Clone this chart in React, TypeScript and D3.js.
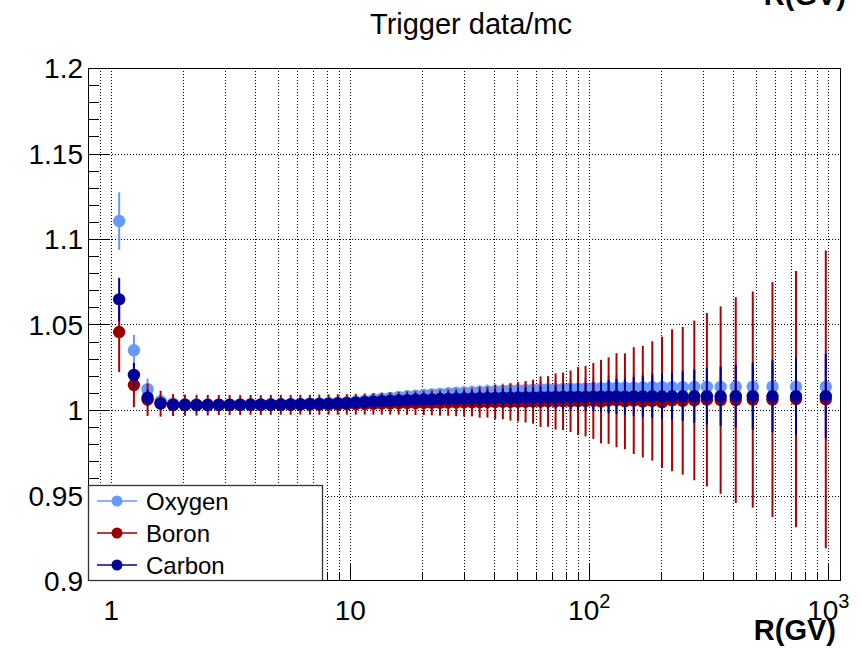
import React from "react";
import * as d3 from "d3";

// ---------- data ----------
const binEdges = [1.00, 1.16, 1.33, 1.51, 1.71, 1.92, 2.15, 2.40, 2.67, 2.97, 3.29, 3.64, 4.02, 4.43, 4.88, 5.37, 5.90, 6.47, 7.09, 7.76, 8.48, 9.26, 10.1, 11.0, 12.0, 13.0, 14.1, 15.3, 16.6, 18.0, 19.5, 21.1, 22.8, 24.7, 26.7, 28.8, 31.1, 33.5, 36.1, 38.9, 41.9, 45.1, 48.5, 52.2, 56.1, 60.3, 64.8, 69.7, 74.9, 80.5, 86.5, 93.0, 100, 108, 116, 125, 135, 147, 160, 175, 192, 211, 233, 259, 291, 330, 379, 441, 525, 643, 822, 1130];

const oxygenValues = [1.1105, 1.0349, 1.0122, 1.0052, 1.0038, 1.0034, 1.0033, 1.0033, 1.0033, 1.0033, 1.0034, 1.0034, 1.0034, 1.0035, 1.0035, 1.0036, 1.0037, 1.0038, 1.0039, 1.0041, 1.0043, 1.0046, 1.0050, 1.0055, 1.0061, 1.0066, 1.0071, 1.0076, 1.0080, 1.0084, 1.0088, 1.0091, 1.0094, 1.0097, 1.0099, 1.0102, 1.0104, 1.0106, 1.0108, 1.0110, 1.0112, 1.0114, 1.0116, 1.0117, 1.0119, 1.0120, 1.0121, 1.0122, 1.0123, 1.0124, 1.0125, 1.0126, 1.0127, 1.0128, 1.0129, 1.0130, 1.0131, 1.0131, 1.0132, 1.0133, 1.0133, 1.0134, 1.0134, 1.0135, 1.0135, 1.0135, 1.0136, 1.0136, 1.0136, 1.0136, 1.0136];
const oxygenErrors = [0.0168, 0.0090, 0.0062, 0.0042, 0.0035, 0.0032, 0.0030, 0.0030, 0.0030, 0.0030, 0.0030, 0.0030, 0.0030, 0.0030, 0.0030, 0.0030, 0.0030, 0.0030, 0.0030, 0.0030, 0.0030, 0.0030, 0.0029, 0.0030, 0.0030, 0.0031, 0.0031, 0.0032, 0.0032, 0.0033, 0.0034, 0.0034, 0.0035, 0.0036, 0.0037, 0.0038, 0.0039, 0.0040, 0.0041, 0.0042, 0.0043, 0.0044, 0.0045, 0.0047, 0.0048, 0.0050, 0.0052, 0.0054, 0.0056, 0.0058, 0.0060, 0.0063, 0.0066, 0.0069, 0.0072, 0.0075, 0.0078, 0.0082, 0.0086, 0.0090, 0.0094, 0.0098, 0.0103, 0.0108, 0.0114, 0.0120, 0.0127, 0.0134, 0.0142, 0.0151, 0.0162];

const boronValues = [1.0456, 1.0146, 1.0060, 1.0037, 1.0029, 1.0028, 1.0028, 1.0028, 1.0029, 1.0029, 1.0029, 1.0030, 1.0029, 1.0030, 1.0030, 1.0030, 1.0031, 1.0031, 1.0031, 1.0032, 1.0032, 1.0033, 1.0034, 1.0035, 1.0036, 1.0037, 1.0038, 1.0039, 1.0040, 1.0040, 1.0041, 1.0042, 1.0042, 1.0043, 1.0043, 1.0044, 1.0045, 1.0045, 1.0046, 1.0046, 1.0047, 1.0047, 1.0048, 1.0048, 1.0049, 1.0049, 1.0050, 1.0050, 1.0051, 1.0051, 1.0052, 1.0052, 1.0053, 1.0049, 1.0055, 1.0057, 1.0051, 1.0055, 1.0049, 1.0053, 1.0045, 1.0057, 1.0054, 1.0056, 1.0060, 1.0058, 1.0058, 1.0061, 1.0061, 1.0064, 1.0062];
const boronErrors = [0.0234, 0.0130, 0.0095, 0.0076, 0.0064, 0.0062, 0.0061, 0.0060, 0.0059, 0.0059, 0.0058, 0.0058, 0.0058, 0.0058, 0.0058, 0.0058, 0.0058, 0.0058, 0.0059, 0.0059, 0.0060, 0.0060, 0.0061, 0.0062, 0.0063, 0.0064, 0.0065, 0.0066, 0.0068, 0.0069, 0.0071, 0.0073, 0.0075, 0.0077, 0.0079, 0.0082, 0.0082, 0.0090, 0.0090, 0.0101, 0.0101, 0.0109, 0.0115, 0.0121, 0.0129, 0.0148, 0.0148, 0.0164, 0.0168, 0.0180, 0.0199, 0.0206, 0.0222, 0.0244, 0.0253, 0.0275, 0.0280, 0.0312, 0.0326, 0.0349, 0.0384, 0.0415, 0.0432, 0.0467, 0.0507, 0.0548, 0.0602, 0.0632, 0.0687, 0.0749, 0.0871];

const carbonValues = [1.0647, 1.0205, 1.0072, 1.0039, 1.0030, 1.0029, 1.0029, 1.0029, 1.0030, 1.0030, 1.0030, 1.0031, 1.0031, 1.0031, 1.0032, 1.0032, 1.0033, 1.0034, 1.0035, 1.0036, 1.0038, 1.0040, 1.0043, 1.0046, 1.0049, 1.0052, 1.0054, 1.0056, 1.0058, 1.0060, 1.0061, 1.0062, 1.0064, 1.0065, 1.0066, 1.0067, 1.0068, 1.0069, 1.0070, 1.0071, 1.0072, 1.0072, 1.0073, 1.0074, 1.0074, 1.0075, 1.0075, 1.0076, 1.0076, 1.0077, 1.0077, 1.0077, 1.0078, 1.0078, 1.0078, 1.0079, 1.0078, 1.0079, 1.0079, 1.0080, 1.0079, 1.0080, 1.0080, 1.0080, 1.0081, 1.0080, 1.0081, 1.0081, 1.0080, 1.0080, 1.0081];
const carbonErrors = [0.0126, 0.0070, 0.0048, 0.0038, 0.0034, 0.0032, 0.0031, 0.0030, 0.0030, 0.0030, 0.0030, 0.0030, 0.0030, 0.0030, 0.0030, 0.0030, 0.0030, 0.0030, 0.0030, 0.0030, 0.0030, 0.0030, 0.0030, 0.0031, 0.0032, 0.0033, 0.0034, 0.0035, 0.0036, 0.0037, 0.0038, 0.0039, 0.0040, 0.0041, 0.0043, 0.0044, 0.0046, 0.0047, 0.0049, 0.0051, 0.0053, 0.0055, 0.0057, 0.0059, 0.0061, 0.0063, 0.0066, 0.0068, 0.0071, 0.0074, 0.0077, 0.0081, 0.0085, 0.0090, 0.0097, 0.0103, 0.0105, 0.0113, 0.0119, 0.0127, 0.0133, 0.0137, 0.0144, 0.0155, 0.0165, 0.0172, 0.0184, 0.0195, 0.0210, 0.0226, 0.0247];

const seriesNames = ["Oxygen", "Boron", "Carbon"];
const seriesColors = ["#6699ff", "#990000", "#000099"];
const barColors = ["#6699ff", "#b00000", "#00009c"];

const xDomain = [0.8, 1130];
const yDomain = [0.9, 1.2];
const yMajorTicks = [0.9, 0.95, 1.0, 1.05, 1.1, 1.15, 1.2];
const yTickLabels = ["0.9", "0.95", "1", "1.05", "1.1", "1.15", "1.2"];
const xMajorTicks = [1, 10, 100, 1000];
const xTickBase = ["1", "10", "10", "10"];
const xTickExp = ["", "", "2", "3"];

const title = "Trigger data/mc";
const axisTitle = "R(GV)";

// ---------- layout ----------
const W = 861;
const H = 649;
const L = 88, R = 841, T = 68, B = 581;
const FONT = "'Liberation Sans', Arial, Helvetica, sans-serif";

export default function App() {
  const x = d3.scaleLog().domain(xDomain).range([L, R]);
  const y = d3.scaleLinear().domain(yDomain).range([B, T]);

  const centers = d3.range(binEdges.length - 1).map((i) => (binEdges[i] + binEdges[i + 1]) / 2);
  const series = [
    { vals: oxygenValues, errs: oxygenErrors },
    { vals: boronValues, errs: boronErrors },
    { vals: carbonValues, errs: carbonErrors },
  ];

  const xAllTicks = x.ticks().filter((t) => t > xDomain[0] * 1.0001 && t < xDomain[1]);
  const isMajorX = (t: number) => xMajorTicks.some((m) => Math.abs(m - t) / m < 1e-6);
  const yMinor = d3.range(91, 120).map((v) => v / 100);
  const isMajorY = (t: number) => yMajorTicks.some((m) => Math.abs(m - t) < 1e-6);

  const gridDash = "1 2";

  const legendX0 = 88, legendX1 = 323, legendY0 = 485, legendY1 = 581;
  const legendRows = [501, 533, 565];

  return (
    <svg width={W} height={H} style={{ position: "absolute", left: 0, top: 0, background: "#fff" }} xmlns="http://www.w3.org/2000/svg">
      <rect x={0} y={0} width={W} height={H} fill="#fff" />
      <defs>
        <clipPath id="frame">
          <rect x={L} y={T} width={R - L} height={B - T} />
        </clipPath>
      </defs>

      {/* grid */}
      <g stroke="#000" strokeWidth={1} strokeDasharray={gridDash} fill="none">
        {xAllTicks.map((t, i) => (
          <line key={"gx" + i} x1={Math.round(x(t)) + 0.5} x2={Math.round(x(t)) + 0.5} y1={T} y2={B} />
        ))}
        {yMajorTicks.slice(1, -1).map((t, i) => (
          <line key={"gy" + i} x1={L} x2={R} y1={Math.round(y(t)) + 0.5} y2={Math.round(y(t)) + 0.5} />
        ))}
      </g>

      {/* data */}
      <g clipPath="url(#frame)">
        {series.map((s, si) => (
          <g key={"s" + si}>
            {centers.map((c, i) => (
              <line
                key={"e" + i}
                x1={x(c)}
                x2={x(c)}
                y1={y(s.vals[i] + s.errs[i])}
                y2={y(s.vals[i] - s.errs[i])}
                stroke={barColors[si]}
                strokeWidth={2}
              />
            ))}
            {centers.map((c, i) => (
              <circle key={"m" + i} cx={x(c)} cy={y(s.vals[i])} r={6.2} fill={seriesColors[si]} />
            ))}
          </g>
        ))}
      </g>

      {/* frame */}
      <rect x={L + 0.5} y={T + 0.5} width={R - L - 1} height={B - T - 1} fill="none" stroke="#000" strokeWidth={1} />

      {/* y ticks */}
      <g stroke="#000" strokeWidth={1}>
        {yMinor.map((t, i) => {
          const yy = Math.round(y(t)) + 0.5;
          const len = isMajorY(t) ? 22 : 11;
          return <line key={"yt" + i} x1={L} x2={L + len} y1={yy} y2={yy} />;
        })}
      </g>
      {/* x ticks */}
      <g stroke="#000" strokeWidth={1}>
        {xAllTicks.map((t, i) => {
          const xx = Math.round(x(t)) + 0.5;
          const len = isMajorX(t) ? 17 : 9;
          return <line key={"xt" + i} x1={xx} x2={xx} y1={B} y2={B - len} />;
        })}
      </g>

      {/* y labels */}
      {yMajorTicks.map((t, i) => (
        <text key={"yl" + i} x={83} y={y(t) + 10} textAnchor="end" fontFamily={FONT} fontSize={28} fill="#000">
          {yTickLabels[i]}
        </text>
      ))}
      {/* x labels */}
      {xMajorTicks.map((t, i) => (
        <text key={"xl" + i} x={x(t)} y={620} textAnchor="middle" fontFamily={FONT} fontSize={28} fill="#000">
          <tspan>{xTickBase[i]}</tspan>
          {xTickExp[i] ? (
            <tspan dy={-12} fontSize={20}>
              {xTickExp[i]}
            </tspan>
          ) : null}
        </text>
      ))}

      {/* titles */}
      <text x={471} y={34} textAnchor="middle" fontFamily={FONT} fontSize={29} fill="#000">
        {title}
      </text>
      <text x={836} y={640} textAnchor="end" fontFamily={FONT} fontSize={29} fontWeight="bold" fill="#000">
        {axisTitle}
      </text>
      <text x={846} y={5} textAnchor="end" fontFamily={FONT} fontSize={29} fontWeight="bold" fill="#000">
        {axisTitle}
      </text>

      {/* legend */}
      <rect x={legendX0 + 0.5} y={legendY0 + 0.5} width={legendX1 - legendX0 - 1} height={legendY1 - legendY0 - 1} fill="#fff" stroke="#333" strokeWidth={1.3} />
      {seriesNames.map((n, i) => (
        <g key={"lg" + i}>
          <line x1={97} x2={137} y1={legendRows[i]} y2={legendRows[i]} stroke={seriesColors[i]} strokeWidth={1.5} />
          <circle cx={117} cy={legendRows[i]} r={5.5} fill={seriesColors[i]} />
          <text x={146} y={legendRows[i] + 8.5} fontFamily={FONT} fontSize={24} fill="#000">
            {n}
          </text>
        </g>
      ))}
    </svg>
  );
}
